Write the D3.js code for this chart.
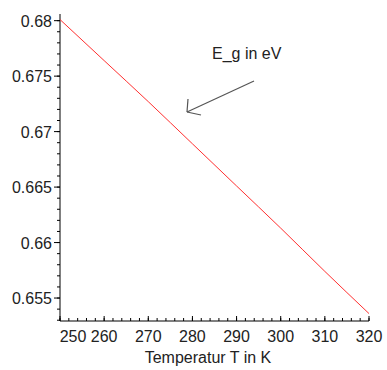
<!DOCTYPE html>
<html>
<head>
<meta charset="utf-8">
<script src="https://cdn.jsdelivr.net/npm/d3@7"></script>
<style>
  body { margin: 0; background: #fff; }
  text { font-family: "Liberation Sans", Arial, sans-serif; }
</style>
</head>
<body>
<svg id="chart" width="387" height="370"></svg>
<script>
// values
const temps = [250, 260, 270, 280, 290, 300, 310, 320];
const egValues = [0.6801, 0.6764, 0.6727, 0.6689, 0.6651, 0.6613, 0.6574, 0.6536];
const xTicks = [250, 260, 270, 280, 290, 300, 310, 320];
const yTicks = [0.655, 0.66, 0.665, 0.67, 0.675, 0.68];
const xLabel = "Temperatur T in K";
const curveLabel = "E_g in eV";

const svg = d3.select("#chart");

/* scales */
let xScale = d3.scaleLinear()
    .domain([250, 320])
    .range([60, 369]);

let yScale = d3.scaleLinear()
    .domain([0.65293, 0.6806])
    .range([321, 14]);

/* x axis: major + minor ticks pointing up */
let xAxisG = svg.append("g")
    .attr("transform", "translate(0,321)");

xAxisG.append("line")
    .attr("x1", xScale(250)).attr("x2", xScale(320))
    .attr("stroke", "#000");

xAxisG.selectAll(".minor")
    .data(d3.range(250, 321, 2))
    .join("line")
    .attr("x1", d => xScale(d)).attr("x2", d => xScale(d))
    .attr("y1", 0).attr("y2", -3)
    .attr("stroke", "#000");

xAxisG.selectAll(".major")
    .data(xTicks)
    .join("line")
    .attr("x1", d => xScale(d)).attr("x2", d => xScale(d))
    .attr("y1", 0).attr("y2", -5)
    .attr("stroke", "#000");

xAxisG.selectAll("text")
    .data(xTicks)
    .join("text")
    .attr("x", d => d == 250 ? xScale(d) + 13 : xScale(d))
    .attr("y", 21)
    .attr("text-anchor", "middle")
    .attr("font-size", 16)
    .attr("fill", "#222")
    .text(d => d);

/* y axis: ticks pointing left */
let yAxisG = svg.append("g")
    .attr("transform", "translate(60,0)");

yAxisG.append("line")
    .attr("y1", yScale.range()[0]).attr("y2", yScale.range()[1])
    .attr("stroke", "#000");

yAxisG.selectAll(".minor")
    .data(d3.range(0, 28).map(i => 0.653 + i * 0.001))
    .join("line")
    .attr("y1", d => yScale(d)).attr("y2", d => yScale(d))
    .attr("x1", 0).attr("x2", -3)
    .attr("stroke", "#000");

yAxisG.selectAll(".major")
    .data(yTicks)
    .join("line")
    .attr("y1", d => yScale(d)).attr("y2", d => yScale(d))
    .attr("x1", 0).attr("x2", -6)
    .attr("stroke", "#000");

yAxisG.selectAll("text")
    .data(yTicks)
    .join("text")
    .attr("x", -8)
    .attr("y", d => yScale(d) + 6)
    .attr("text-anchor", "end")
    .attr("font-size", 16)
    .attr("fill", "#222")
    .text(d => d);

/* axis title */
svg.append("text")
    .attr("x", 208)
    .attr("y", 363)
    .attr("text-anchor", "middle")
    .attr("font-size", 16)
    .attr("fill", "#222")
    .text(xLabel);

/* curve */
let line = d3.line()
    .x((d, i) => xScale(temps[i]))
    .y(d => yScale(d))
    .curve(d3.curveMonotoneX);

svg.append("path")
    .datum(egValues)
    .attr("d", line)
    .attr("fill", "none")
    .attr("stroke", "#ff3030")
    .attr("stroke-width", 1);

/* annotation arrow */
let arrowG = svg.append("g").attr("stroke", "#555").attr("stroke-width", 1.2).attr("fill", "none");
arrowG.append("line").attr("x1", 254).attr("y1", 81).attr("x2", 187).attr("y2", 112);
arrowG.append("line").attr("x1", 188).attr("y1", 99).attr("x2", 187).attr("y2", 112);
arrowG.append("line").attr("x1", 187).attr("y1", 112).attr("x2", 201).attr("y2", 115);

svg.append("text")
    .attr("x", 212)
    .attr("y", 59)
    .attr("font-size", 16)
    .attr("fill", "#222")
    .text(curveLabel);
</script>
</body>
</html>
